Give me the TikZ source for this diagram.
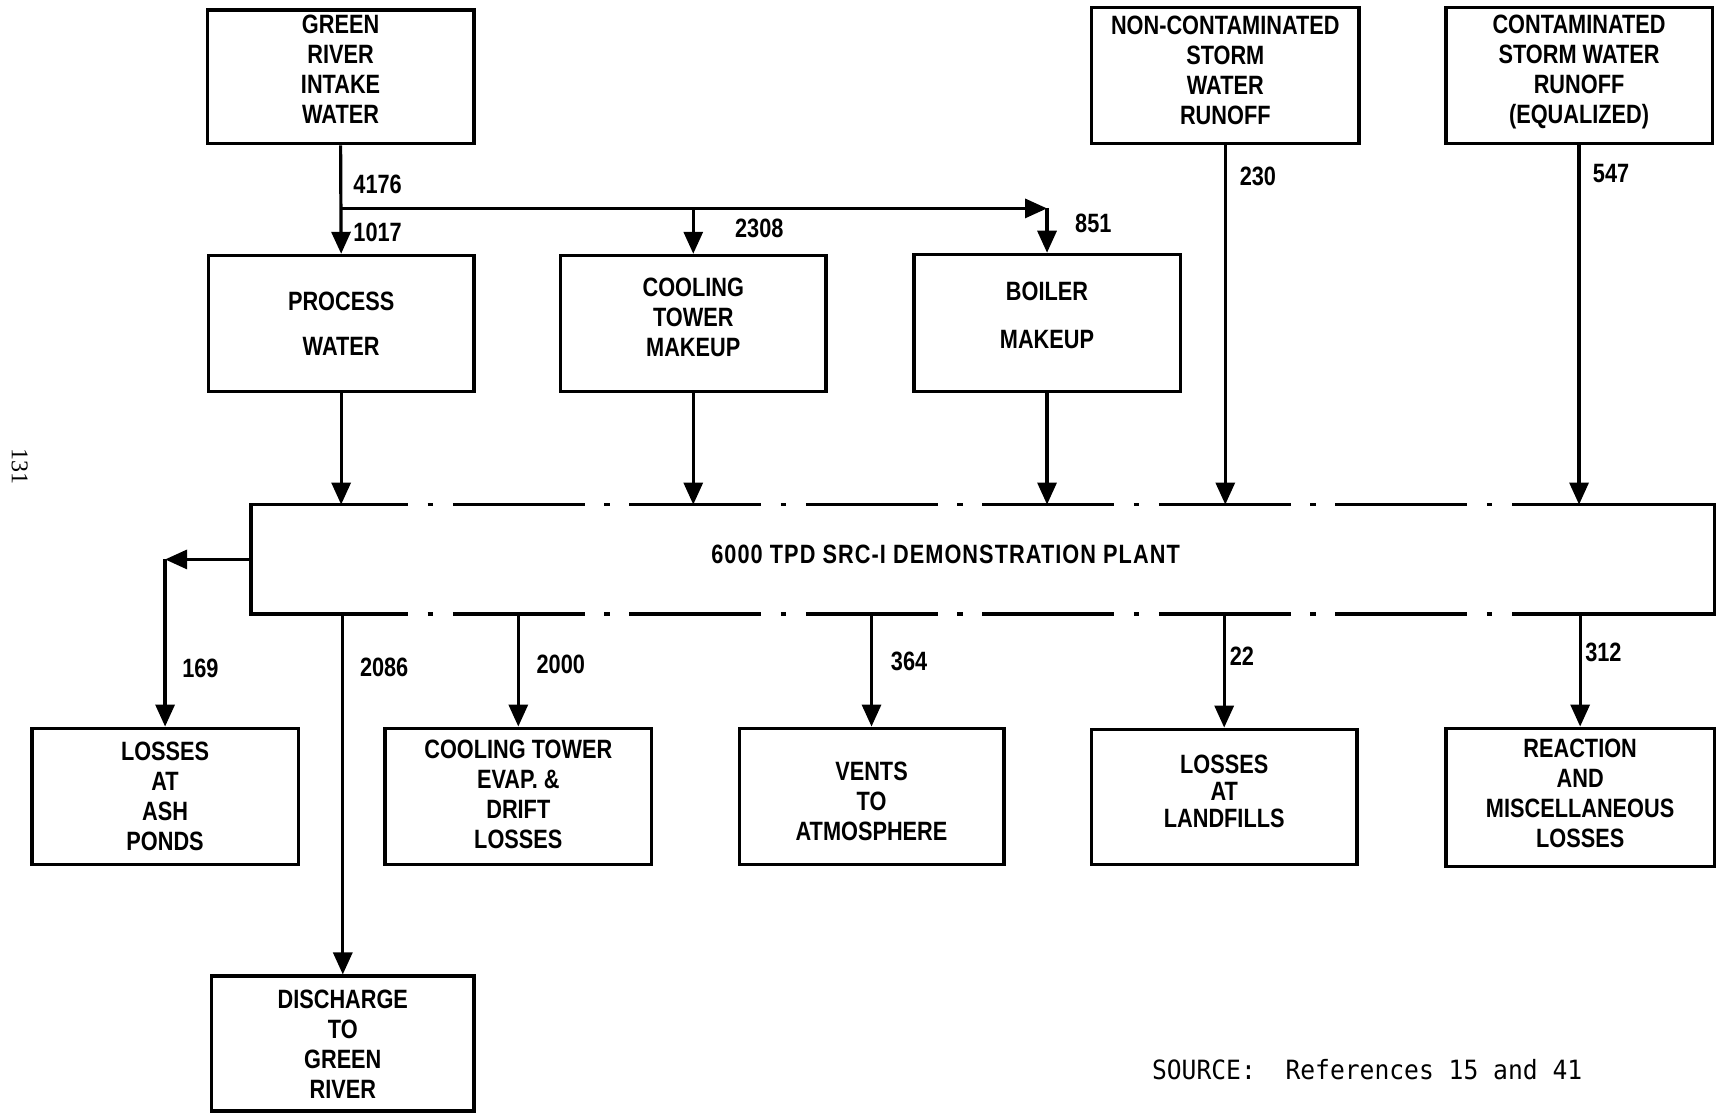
\documentclass[tikz,border=0pt]{standalone}
\usepackage{fontspec}
\setmainfont{Liberation Sans}[FakeStretch=0.82]
\newfontfamily\srcfont{DejaVu Sans Mono}[FakeStretch=0.93]
\newfontfamily\pgfont{Liberation Serif}
\usetikzlibrary{arrows.meta}
\newcommand\tdep[1]{\rule[-#1]{0pt}{0pt}}
\newcommand\thgt[1]{\rule{0pt}{#1}}
\begin{document}
\begin{tikzpicture}[x=1.0969pt, y=-1.0969pt,
  txt/.style={font=\bfseries\fontsize{26.5pt}{30pt}\selectfont},
  box/.style={txt, draw, line width=3.6pt, rectangle, align=center, inner sep=0pt},
  flow/.style={line width=3.2pt, -{Triangle[length=22pt,width=19pt]}},
  plantline/.style={line width=3.6pt, line join=miter},
  lbl/.style={txt, anchor=west, inner sep=0pt}]
\useasboundingbox (0,0) rectangle (1568,1017);

% top row
\node[box, minimum width=266.5pt, minimum height=133.8pt] (gr) at (310.5,70) {GREEN\\RIVER\\INTAKE\\WATER\tdep{15pt}};
\node[box, minimum width=267.6pt, minimum height=136pt] (nc) at (1117,69) {NON-CONTAMINATED\\STORM\\WATER\\RUNOFF\tdep{10pt}};
\node[box, minimum width=266.5pt, minimum height=136pt] (cc) at (1439.5,69) {CONTAMINATED\\STORM WATER\\RUNOFF\\(EQUALIZED)\tdep{12pt}};

% middle row
\node[box, minimum width=265.5pt, minimum height=136pt] (pw) at (311,295) {PROCESS\\[15pt]WATER};
\node[box, minimum width=265.5pt, minimum height=136pt] (ctm) at (632,295) {COOLING\\TOWER\\MAKEUP\tdep{13pt}};
\node[box, minimum width=266.5pt, minimum height=137pt] (bm) at (954.5,294.5) {BOILER\\[18pt]MAKEUP\tdep{15pt}};

% plant
\node[minimum width=1463.3pt, minimum height=109.7pt, inner sep=0pt, outer sep=0pt] (plant) at (896,510) {};
\node[txt, inner sep=0pt] (plantlbl) at (862,505) {\addfontfeature{LetterSpace=4}6000 TPD SRC-I DEMONSTRATION PLANT};
\draw[plantline] (252,460) -- (229,460) -- (229,560) -- (252,560);
\draw[plantline] (1379,460) -- (1563,460) -- (1563,560) -- (1379,560);
\draw[plantline, dash pattern=on 131.6pt off 19.7pt on 5.5pt off 19.7pt] (252,460) -- (1499,460);
\draw[plantline, dash pattern=on 131.6pt off 19.7pt on 5.5pt off 19.7pt] (252,560) -- (1499,560);

% bottom row
\node[box, minimum width=266.5pt, minimum height=136pt] (ash) at (150.5,726) {LOSSES\\AT\\ASH\\PONDS};
\node[box, minimum width=266.5pt, minimum height=136pt] (cte) at (472.5,726) {COOLING TOWER\\EVAP. \&\\DRIFT\\LOSSES\tdep{5pt}};
\node[box, minimum width=264.4pt, minimum height=136pt] (vents) at (794.5,726) {\thgt{28pt}VENTS\\TO\\ATMOSPHERE};
\node[box, minimum width=265.5pt, minimum height=135pt, font=\bfseries\fontsize{26.5pt}{27pt}\selectfont] (land) at (1116,726.5) {LOSSES\\AT\\LANDFILLS\tdep{11pt}};
\node[box, minimum width=268.7pt, minimum height=138.2pt] (react) at (1440.5,727) {REACTION\\AND\\MISCELLANEOUS\\LOSSES\tdep{9pt}};
\node[box, minimum width=262.2pt, minimum height=135pt] (dis) at (312.5,951.5) {DISCHARGE\\TO\\GREEN\\RIVER};

% top flows
\coordinate (j1) at (311,190);
\coordinate (j2) at (bm.north |- j1);
\draw[flow] (gr.south) -- (pw.north);
\draw[flow] (j1) -- (j2);
\draw[flow] (j2) -- (bm.north);
\draw[flow] (ctm.north |- j1) -- (ctm.north);
\draw[flow] (pw.south) -- (pw.south |- plant.north);
\draw[flow] (ctm.south) -- (ctm.south |- plant.north);
\draw[flow] (bm.south) -- (bm.south |- plant.north);
\draw[flow] (nc.south) -- (nc.south |- plant.north);
\draw[flow] (cc.south) -- (cc.south |- plant.north);

% bottom flows
\coordinate (k) at (ash.north |- plant.west);
\draw[flow] (plant.west) -- (k);
\draw[flow] (k) -- (ash.north);
\draw[flow] (plant.south -| dis.north) -- (dis.north);
\draw[flow] (plant.south -| cte.north) -- (cte.north);
\draw[flow] (plant.south -| vents.north) -- (vents.north);
\draw[flow] (plant.south -| land.north) -- (land.north);
\draw[flow] (plant.south -| react.north) -- (react.north);

% labels
\node[lbl] (l4176) at (322,168) {4176};
\node[lbl] (l1017) at (322,212) {1017};
\node[lbl] (l2308) at (670,208) {2308};
\node[lbl] (l851) at (980,204) {851};
\node[lbl] (l230) at (1130,161) {230};
\node[lbl] (l547) at (1452,158) {547};
\node[lbl] (l169) at (166,609) {169};
\node[lbl] (l2086) at (328,608) {2086};
\node[lbl] (l2000) at (489,606) {2000};
\node[lbl] (l364) at (812,603) {364};
\node[lbl] (l22) at (1121,598) {22};
\node[lbl] (l312) at (1445,595) {312};

\node[anchor=west, inner sep=0pt, font=\srcfont\fontsize{26.5pt}{30pt}\selectfont] (src) at (1050,975) {SOURCE:\ \ References 15 and 41};
\node[rotate=-90, inner sep=0pt, font=\pgfont\fontsize{24pt}{28pt}\selectfont] (pg) at (18,425) {131};
\end{tikzpicture}
\end{document}
